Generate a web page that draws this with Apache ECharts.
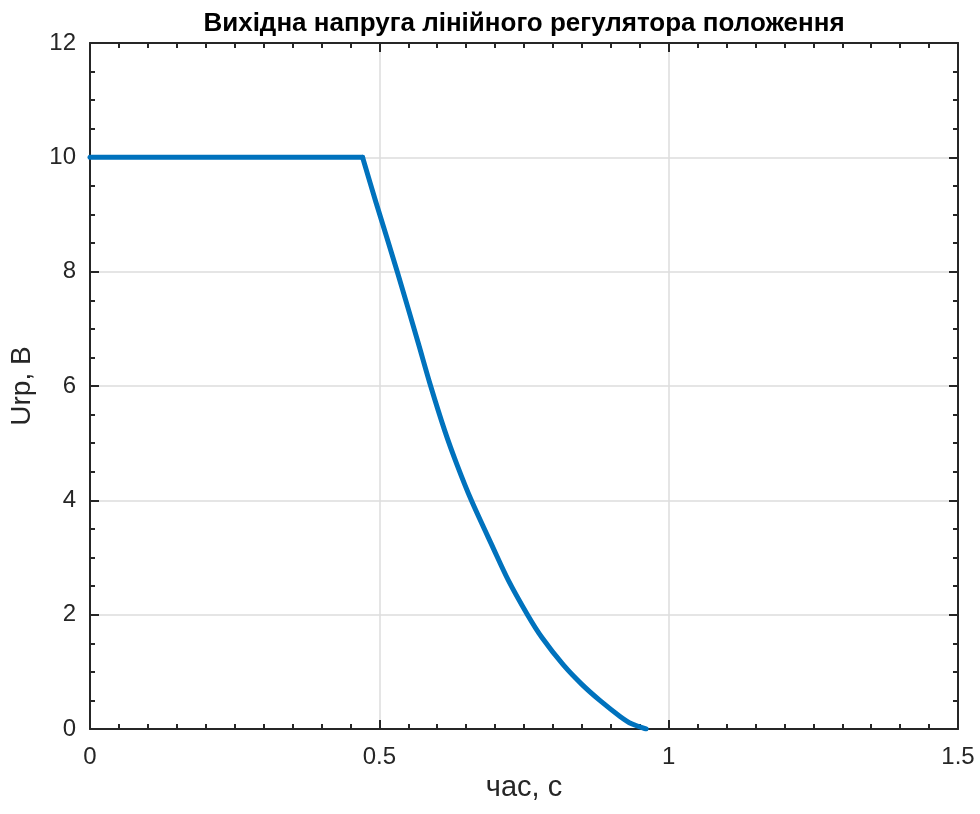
<!DOCTYPE html>
<html>
<head>
<meta charset="utf-8">
<script src="https://cdn.jsdelivr.net/npm/echarts@6/dist/echarts.min.js"></script>
<style>
html,body{margin:0;padding:0;background:#fff;}
#chart{width:980px;height:814px;}
</style>
</head>
<body>
<div id="chart"></div>
<script>
// Data
var timeValues = [0, 0.471, 0.494, 0.531, 0.567, 0.5875, 0.613, 0.634, 0.659, 0.697, 0.723, 0.756, 0.781, 0.818, 0.850, 0.881, 0.916, 0.936, 0.961];
var voltageValues = [10, 10, 9.22, 8, 6.76, 6.04, 5.22, 4.63, 4.0, 3.16, 2.6, 2.0, 1.6, 1.12, 0.78, 0.5, 0.22, 0.09, 0];
var xTicks = [0, 0.5, 1, 1.5];
var yTicks = [0, 2, 4, 6, 8, 10, 12];
var titleText = 'Вихідна напруга лінійного регулятора положення';
var xName = 'час, с';
var yName = 'Urp, B';

var pts = timeValues.map(function (t, i) { return [t, voltageValues[i]]; });
// flat part (saturation) and falling part share the corner point
var flatPts = pts.slice(0, 2);
var fallPts = pts.slice(1);

var font = 'Liberation Sans, Arial, Helvetica, sans-serif';
var ink = '#262626';
var gridColor = '#dcdcdc';
var lineColor = '#0072BD';

function baseAxis(extra) {
  var a = {
    axisLine: { show: true, onZero: false, lineStyle: { color: ink, width: 2 } },
    axisTick: { show: true, inside: true, length: 9, lineStyle: { color: ink, width: 2 } },
    minorTick: { show: true, length: 5, lineStyle: { color: ink, width: 2 } },
    splitLine: { show: false },
    axisLabel: { show: false }
  };
  for (var k in extra) a[k] = extra[k];
  return a;
}

var chart = echarts.init(document.getElementById('chart'), null, { renderer: 'canvas' });
chart.setOption({
  animation: false,
  backgroundColor: '#ffffff',
  title: {
    text: titleText,
    left: 519,
    textAlign: 'center',
    top: 6,
    textStyle: { fontFamily: font, fontSize: 26, fontWeight: 'bold', color: '#000' }
  },
  grid: { left: 90, right: 22, top: 43, bottom: 85, containLabel: false },
  xAxis: [
    baseAxis({
      type: 'value', min: xTicks[0], max: xTicks[xTicks.length - 1], interval: 0.5,
      position: 'bottom',
      minorTick: { show: true, splitNumber: 10, length: 5, lineStyle: { color: ink, width: 2 } },
      splitLine: { show: true, lineStyle: { color: gridColor, width: 1.5 } },
      axisLabel: { show: true, margin: 16, fontFamily: font, fontSize: 24, color: ink,
        formatter: function (v) { return String(v); } },
      name: xName, nameLocation: 'middle', nameGap: 40,
      nameTextStyle: { fontFamily: font, fontSize: 29, color: ink }
    }),
    baseAxis({
      type: 'value', min: xTicks[0], max: xTicks[xTicks.length - 1], interval: 0.5,
      position: 'top',
      minorTick: { show: true, splitNumber: 10, length: 5, lineStyle: { color: ink, width: 2 } }
    })
  ],
  yAxis: [
    baseAxis({
      type: 'value', min: yTicks[0], max: yTicks[yTicks.length - 1], interval: 2,
      position: 'left',
      minorTick: { show: true, splitNumber: 4, length: 5, lineStyle: { color: ink, width: 2 } },
      splitLine: { show: true, lineStyle: { color: gridColor, width: 1.5 } },
      axisLabel: { show: true, margin: 14, fontFamily: font, fontSize: 24, color: ink },
      name: yName, nameLocation: 'middle', nameGap: 54, nameRotate: 90,
      nameTextStyle: { fontFamily: font, fontSize: 28, color: ink }
    }),
    baseAxis({
      type: 'value', min: yTicks[0], max: yTicks[yTicks.length - 1], interval: 2,
      position: 'right',
      minorTick: { show: true, splitNumber: 4, length: 5, lineStyle: { color: ink, width: 2 } }
    })
  ],
  series: [{
    type: 'line',
    data: flatPts,
    xAxisIndex: 0, yAxisIndex: 0,
    showSymbol: false,
    smooth: false,
    lineStyle: { color: lineColor, width: 5, join: 'round', cap: 'round' },
    itemStyle: { color: lineColor },
    z: 5
  }, {
    type: 'line',
    data: fallPts,
    xAxisIndex: 0, yAxisIndex: 0,
    showSymbol: false,
    smooth: 0.3,
    lineStyle: { color: lineColor, width: 5, join: 'round', cap: 'round' },
    itemStyle: { color: lineColor },
    z: 5
  }]
});
</script>
</body>
</html>
